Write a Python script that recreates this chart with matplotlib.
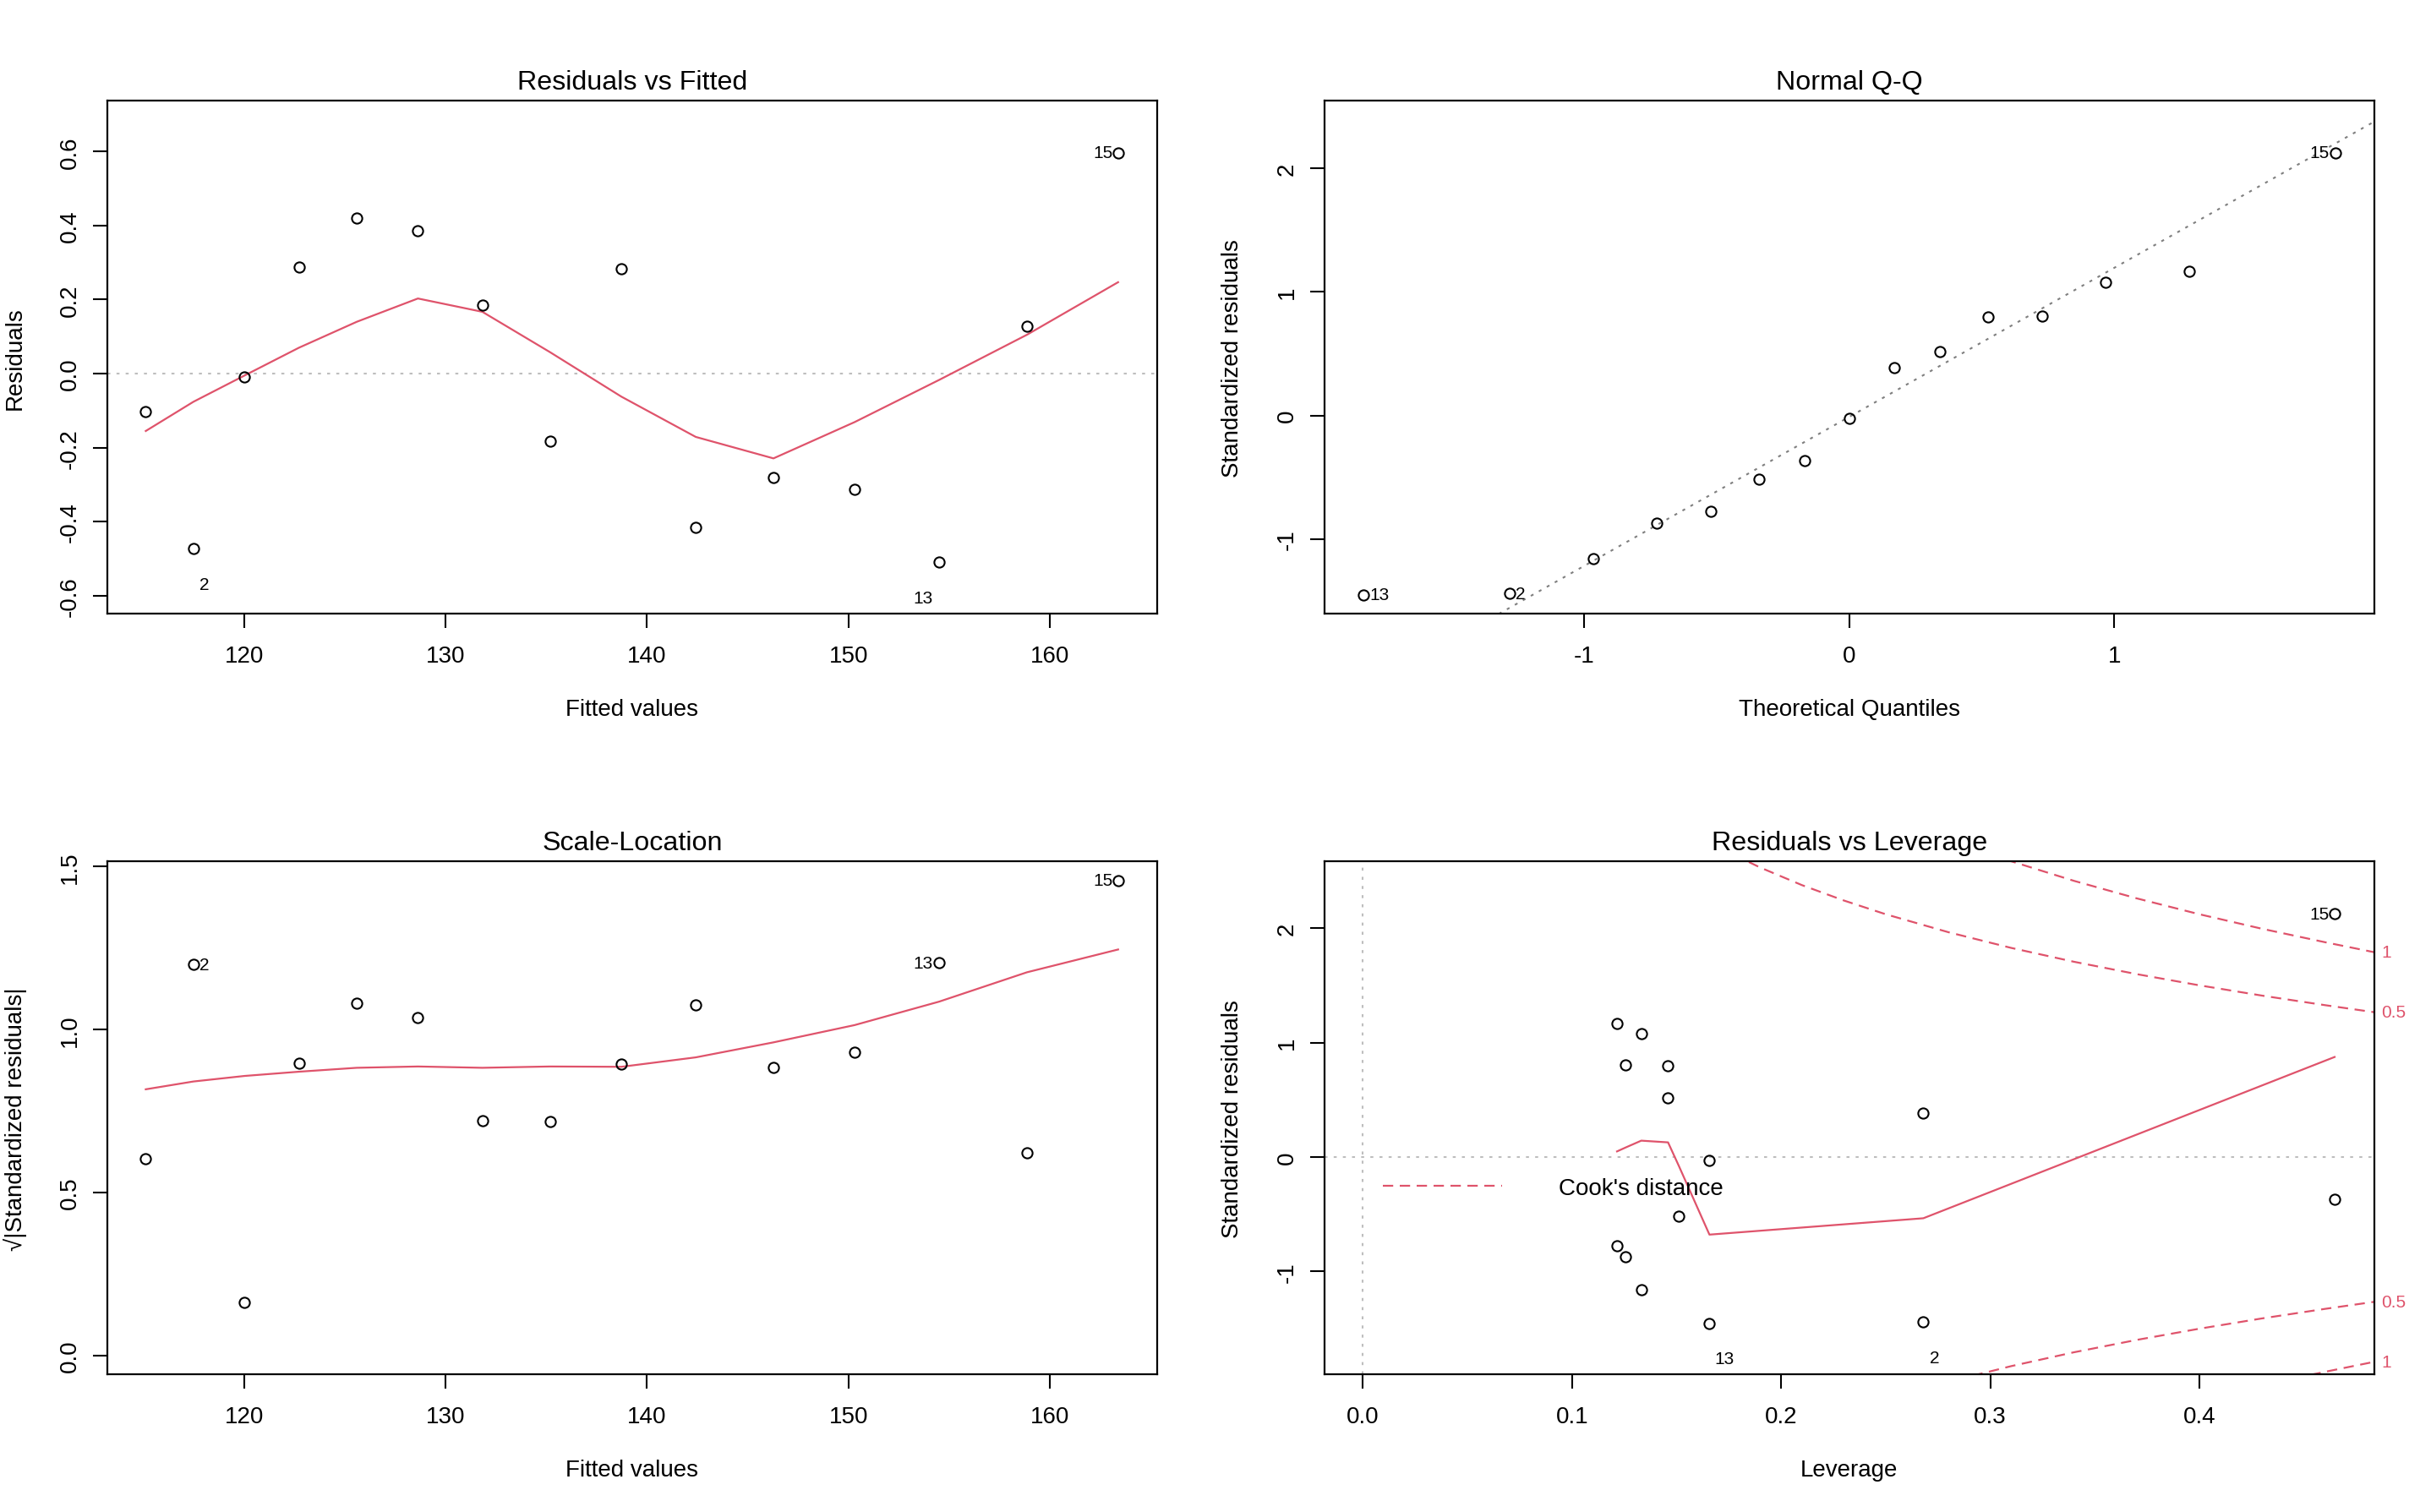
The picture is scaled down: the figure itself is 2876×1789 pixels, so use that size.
import matplotlib
matplotlib.use("Agg")
import matplotlib.pyplot as plt
from matplotlib.lines import Line2D
import numpy as np

plt.rcParams["font.family"] = ["Liberation Sans", "DejaVu Sans"]
plt.rcParams["axes.unicode_minus"] = False

# lm diagnostics, 15 observations (order = observation number)
fitted = [115.10, 117.47, 120.01, 122.71, 125.58, 128.62, 131.82, 135.18,
          138.72, 142.42, 146.28, 150.31, 154.51, 158.87, 163.40]
residuals = [-0.103, -0.473, -0.009, 0.288, 0.420, 0.385, 0.184, -0.183,
             0.284, -0.415, -0.280, -0.312, -0.509, 0.127, 0.597]
std_resid = [-0.366, -1.440, -0.027, 0.803, 1.166, 1.076, 0.519, -0.517,
             0.800, -1.161, -0.779, -0.868, -1.452, 0.386, 2.125]
sqrt_abs_std = [0.605, 1.200, 0.164, 0.896, 1.080, 1.037, 0.720, 0.719,
                0.895, 1.077, 0.883, 0.932, 1.205, 0.621, 1.458]
leverage = [0.4647, 0.268, 0.1657, 0.1256, 0.1215, 0.1331, 0.1459, 0.1511,
            0.1459, 0.1331, 0.1215, 0.1256, 0.1657, 0.268, 0.4647]

# Q-Q
theo_q = [-1.834, -1.282, -0.967, -0.728, -0.524, -0.341, -0.168, 0.0,
          0.168, 0.341, 0.524, 0.728, 0.967, 1.282, 1.834]
qq_intercept = -0.011
qq_slope = 1.205

# red smoother lines
rf_smooth = [-0.155, -0.076, -0.005, 0.070, 0.140, 0.203, 0.167, 0.058,
             -0.062, -0.171, -0.229, -0.131, -0.017, 0.105, 0.247]
sl_smooth = [0.817, 0.841, 0.858, 0.871, 0.883, 0.887, 0.883, 0.887,
             0.886, 0.915, 0.961, 1.014, 1.086, 1.176, 1.246]
lev_smooth_x = [0.1215, 0.1256, 0.1331, 0.1459, 0.1511, 0.1657, 0.268, 0.4647]
lev_smooth_y = [0.049, 0.083, 0.143, 0.128, -0.079, -0.678, -0.535, 0.874]

# Cook's distance contours
cook_h = [0.17, 0.19, 0.21, 0.23, 0.25, 0.28, 0.31, 0.34, 0.37, 0.40,
          0.43, 0.46, 0.4837]
cook_05 = [2.706, 2.529, 2.375, 2.241, 2.121, 1.964, 1.827, 1.706, 1.598,
           1.500, 1.410, 1.327, 1.265]
cook_1 = [3.827, 3.577, 3.359, 3.169, 3.000, 2.777, 2.584, 2.413, 2.260,
          2.121, 1.994, 1.877, 1.789]

RED = "#DF536B"
GREY = "#BEBEBE"
DOT = (0, (1.7, 3.5))
DASH = (0, (5.5, 3.5))


def style(ax, title, xlabel, ylabel, xlim, ylim, xticks, yticks, xfmt, yfmt):
    ax.set_xlim(xlim)
    ax.set_ylim(ylim)
    ax.set_xticks(xticks)
    ax.set_yticks(yticks)
    ax.set_xticklabels([xfmt.format(v) for v in xticks])
    ax.set_yticklabels([yfmt.format(v) for v in yticks], rotation=90, va="center")
    ax.tick_params(axis="both", direction="out", length=6.1, width=0.75,
                   labelsize=10, color="black")
    ax.tick_params(axis="x", pad=7)
    ax.tick_params(axis="y", pad=5)
    for s in ax.spines.values():
        s.set_linewidth(0.8)
    ax.set_title(title, fontsize=11.6, pad=5.0)
    ax.set_xlabel(xlabel, fontsize=10)
    ax.set_ylabel(ylabel, fontsize=10)
    ax.xaxis.set_label_coords(0.5, -0.186)
    ax.xaxis.label.set_va("center")
    ax.yaxis.set_label_coords(-0.0875, 0.5)
    ax.yaxis.label.set_va("center")


def points(ax, x, y):
    ax.plot(x, y, ls="none", marker="o", ms=4.4, mfc="none", mec="black",
            mew=0.75, zorder=3)


def label(ax, i, x, y, dx, dy, ha):
    ax.annotate(str(i + 1), (x[i], y[i]), xytext=(dx, dy),
                textcoords="offset points", fontsize=7.5, ha=ha, va="center",
                annotation_clip=False)


fig = plt.figure(figsize=(14.38, 8.95), dpi=200)
W, H = 2876, 1790
ax1 = fig.add_axes([126.7 / W, 1 - 727.3 / H, 1242.3 / W, 607 / H])
ax2 = fig.add_axes([1566.7 / W, 1 - 727.3 / H, 1242.3 / W, 607 / H])
ax3 = fig.add_axes([126.7 / W, 1 - 1627.3 / H, 1242.3 / W, 607 / H])
ax4 = fig.add_axes([1566.7 / W, 1 - 1627.3 / H, 1242.3 / W, 607 / H])

# Residuals vs Fitted
style(ax1, "Residuals vs Fitted", "Fitted values", "Residuals",
      (113.18, 165.34), (-0.649, 0.737), [120, 130, 140, 150, 160],
      [-0.6, -0.4, -0.2, 0.0, 0.2, 0.4, 0.6], "{:g}", "{:.1f}")
ax1.axhline(0, color=GREY, ls=DOT, lw=0.75, zorder=1)
ax1.plot(fitted, rf_smooth, color=RED, lw=0.8, zorder=2)
points(ax1, fitted, residuals)
label(ax1, 1, fitted, residuals, 4.8, -15.2, "center")
label(ax1, 12, fitted, residuals, -6.8, -15.2, "center")
label(ax1, 14, fitted, residuals, -2.4, 0, "right")

# Normal Q-Q
style(ax2, "Normal Q-Q", "Theoretical Quantiles", "Standardized residuals",
      (-1.982, 1.982), (-1.605, 2.545), [-1, 0, 1], [-1, 0, 1, 2],
      "{:g}", "{:g}")
ax2.axline((0, qq_intercept), slope=qq_slope, color="#7F7F7F", ls=DOT,
           lw=0.75, zorder=1)
qq_y = np.sort(std_resid)
points(ax2, theo_q, qq_y)
order = np.argsort(std_resid)
for k, (dx, ha) in {12: (2.6, "left"), 1: (2.6, "left"), 14: (-2.4, "right")}.items():
    pos = int(np.where(order == k)[0][0])
    ax2.annotate(str(k + 1), (theo_q[pos], qq_y[pos]), xytext=(dx, 0),
                 textcoords="offset points", fontsize=7.5, ha=ha, va="center")

# Scale-Location
style(ax3, "Scale-Location", "Fitted values", "\u221a|Standardized residuals|",
      (113.18, 165.34), (-0.058, 1.516), [120, 130, 140, 150, 160],
      [0.0, 0.5, 1.0, 1.5], "{:g}", "{:.1f}")
ax3.plot(fitted, sl_smooth, color=RED, lw=0.8, zorder=2)
points(ax3, fitted, sqrt_abs_std)
label(ax3, 1, fitted, sqrt_abs_std, 2.6, 0, "left")
label(ax3, 12, fitted, sqrt_abs_std, -2.6, 0, "right")
label(ax3, 14, fitted, sqrt_abs_std, -2.4, 0, "right")

# Residuals vs Leverage
style(ax4, "Residuals vs Leverage", "Leverage", "Standardized residuals",
      (-0.0185, 0.4837), (-1.900, 2.582), [0.0, 0.1, 0.2, 0.3, 0.4],
      [-1, 0, 1, 2], "{:.1f}", "{:g}")
ax4.axhline(0, color=GREY, ls=DOT, lw=0.75, zorder=1)
ax4.axvline(0, color=GREY, ls=DOT, lw=0.75, zorder=1)
ax4.plot(lev_smooth_x, lev_smooth_y, color=RED, lw=0.8, zorder=2)
for curve in (cook_05, cook_1):
    ax4.plot(cook_h, curve, color=RED, ls=DASH, lw=0.8, zorder=2)
    ax4.plot(cook_h, -np.array(curve), color=RED, ls=DASH, lw=0.8, zorder=2)
for curve, txt in ((cook_05, "0.5"), (cook_1, "1")):
    for sign in (1, -1):
        ax4.annotate(txt, (cook_h[-1], sign * curve[-1]), xytext=(3, 0),
                     textcoords="offset points", fontsize=7.5, color=RED,
                     ha="left", va="center", annotation_clip=False)
points(ax4, leverage, std_resid)
label(ax4, 14, leverage, std_resid, -2.4, 0, "right")
label(ax4, 12, leverage, std_resid, 6.4, -15.2, "center")
label(ax4, 1, leverage, std_resid, 4.9, -15.2, "center")
ax4.legend(handles=[Line2D([], [], color=RED, ls=DASH, lw=0.8)],
           labels=["Cook's distance"], loc="center left",
           bbox_to_anchor=(0.0554, 0.3626), frameon=False, fontsize=10,
           handlelength=5.1, handletextpad=2.4, borderpad=0, borderaxespad=0)

fig.savefig("out.png", dpi=200, facecolor="white")
